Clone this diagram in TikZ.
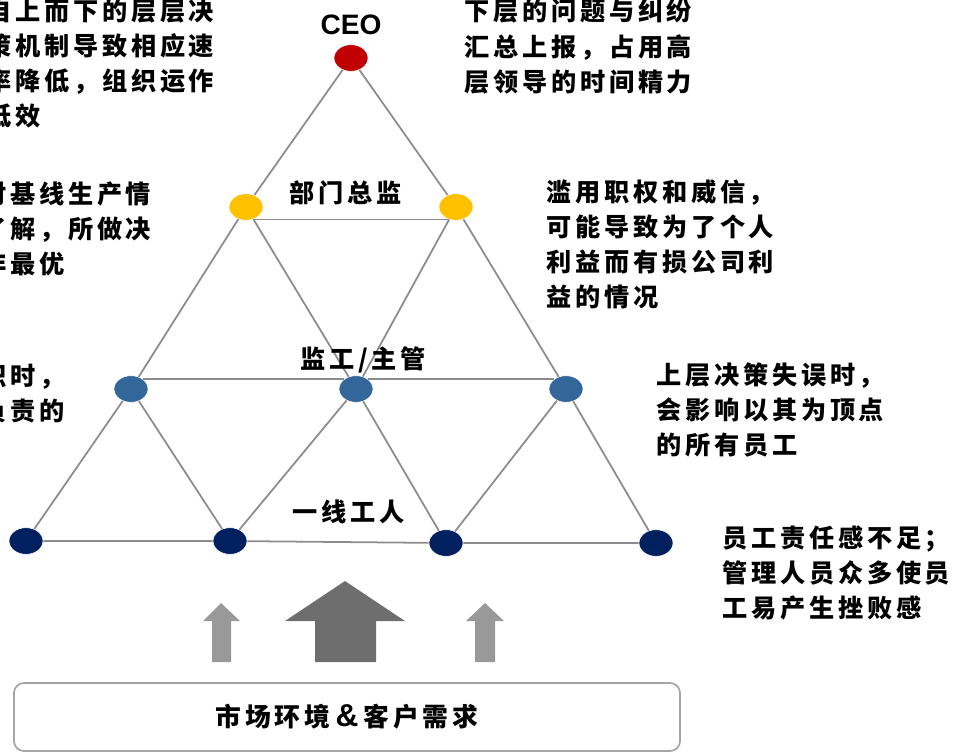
\documentclass[tikz,border=0pt]{standalone}
\usepackage{fontspec}
\setmainfont{Liberation Sans}
\newfontfamily\cjk[LetterSpace=15]{Noto Sans CJK SC}
\usetikzlibrary{positioning}
\usetikzlibrary{shapes.geometric}

\definecolor{ceored}{HTML}{C00000}
\definecolor{leadgold}{HTML}{FFC000}
\definecolor{midblue}{HTML}{336699}
\definecolor{basenavy}{HTML}{002060}
\definecolor{edgegray}{HTML}{8C8C8C}
\definecolor{boxgray}{HTML}{A6A6A6}
\definecolor{liftgray}{HTML}{999999}
\definecolor{pushgray}{HTML}{6E6E6E}

\begin{document}
\begin{tikzpicture}[x=0.03cm,y=-0.03cm,every node/.style={inner sep=0pt},
  dot/.style={ellipse,draw=white,line width=0.5pt,minimum width=1.02cm,minimum height=0.8cm},
  link/.style={edgegray,line width=1.5pt},
  note/.style={anchor=north west,align=left,font=\cjk\bfseries\fontsize{21.5}{29.9}\selectfont},
  tag/.style={font=\cjk\bfseries\fontsize{21.5}{25}\selectfont}]
  \useasboundingbox (0,0) rectangle (953,752);
  \clip (0,0) rectangle (953,752);

  \node[dot,fill=ceored] (ceo) at (351,58)
    [label={[label distance=0.28cm,font=\bfseries\fontsize{24}{24}\selectfont]above:CEO}]{};
  \node[dot,fill=leadgold] (y1) at (246,207){};
  \node[dot,fill=leadgold] (y2) at (456,207){};
  \node[dot,fill=midblue] (b1) at (131,389){};
  \node[dot,fill=midblue] (b2) at (356,389){};
  \node[dot,fill=midblue] (b3) at (566,389){};
  \node[dot,fill=basenavy] (n1) at (26,541){};
  \node[dot,fill=basenavy] (n2) at (230,541){};
  \node[dot,fill=basenavy] (n3) at (446,543){};
  \node[dot,fill=basenavy] (n4) at (656,543){};

  \draw[link](ceo)--(y1)--(b1)--(n1);
  \draw[link](ceo)--(y2)--(b3)--(n4);
  \draw[link](y1)--(b2)--(n3)--(b3);
  \draw[link](y2)--(b2)--(n2)--(b1);
  \draw[link](y1.-60)--(y2.-120);
  \draw[link](b1.40)--(b2.140) (b2.40)--(b3.140);
  \draw[link](n1)--(n2)--(n3)--(n4);

  \node[tag] (dept) at (346,193){部门总监};
  \node[tag] (super) at (363,360){监工/主管};
  \node[tag] (crew) at (349,512){一线工人};

  \node[note] (slow) at (-14,-1){自上而下的层层决\\策机制导致相应速\\率降低，组织运作\\低效};
  \node[note] (blind) at (-77,181){高层对基线生产情\\况不了解，所做决\\策并非最优};
  \node[note] (gap) at (-135,364){当中层失职时，\\下属无人负责的};
  \node[note] (jam) at (464,-1){下层的问题与纠纷\\汇总上报，占用高\\层领导的时间精力};
  \node[note] (abuse) at (546,179){滥用职权和威信，\\可能导致为了个人\\利益而有损公司利\\益的情况};
  \node[note] (error) at (656,362){上层决策失误时，\\会影响以其为顶点\\的所有员工};
  \node[note] (morale) at (722,526){员工责任感不足；\\管理人员众多使员\\工易产生挫败感};

  \fill[liftgray](203,621)--(221,603)--(240,621)--(231,621)--(231,662)--(212,662)--(212,621)--cycle;
  \fill[pushgray](285,621)--(345,581)--(405,621)--(376,621)--(376,662)--(315,662)--(315,621)--cycle;
  \fill[liftgray](466,621)--(485,603)--(504,621)--(495,621)--(495,662)--(475,662)--(475,621)--cycle;

  \node[draw=boxgray,line width=1.5pt,rounded corners=0.3cm,minimum width=19.98cm,minimum height=2.04cm,
    font=\cjk\bfseries\fontsize{22}{25}\selectfont] (market) at (347,717)
    {市场环境{\rmfamily\bfseries\fontsize{27}{27}\selectfont\,\&\,}客户需求};
\end{tikzpicture}
\end{document}
